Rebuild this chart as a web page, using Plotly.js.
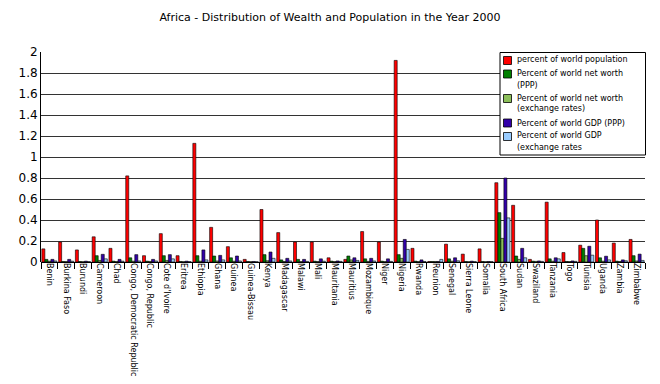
<!DOCTYPE html>
<html>
<head>
<meta charset="utf-8">
<script src="https://cdn.plot.ly/plotly-3.0.1.min.js"></script>
<style>html,body{margin:0;padding:0;background:#fff;}#chart{width:660px;height:384px;}</style>
</head>
<body>
<div id="chart"></div>
<script>
const countries = ["Benin","Burkina Faso","Burundi","Cameroon","Chad","Congo, Democratic Republic","Congo, Republic","Cote d'Ivoire","Eritrea","Ethiopia","Ghana","Guinea","Guinea-Bissau","Kenya","Madagascar","Malawi","Mali","Mauritania","Mauritius","Mozambique","Niger","Nigeria","Rwanda","Reunion","Senegal","Sierra Leone","Somalia","South Africa","Sudan","Swaziland","Tanzania","Togo","Tunisia","Uganda","Zambia","Zimbabwe"];

const population   = [0.125,0.19,0.115,0.24,0.13,0.82,0.06,0.27,0.06,1.13,0.33,0.146,0.025,0.50,0.28,0.19,0.19,0.04,0.025,0.29,0.19,1.92,0.13,0.005,0.17,0.075,0.125,0.755,0.54,0.025,0.57,0.09,0.16,0.40,0.18,0.215];
const netWorthPPP  = [0.025,0.005,0.005,0.06,0.008,0.04,0.008,0.06,0.005,0.06,0.057,0.04,0.005,0.07,0.02,0.025,0.008,0.008,0.057,0.03,0.008,0.07,0.008,0.005,0.03,0.005,0.005,0.47,0.057,0.008,0.03,0.005,0.13,0.04,0.008,0.06];
const netWorthFX   = [0.008,0.004,0.003,0.015,0.004,0.008,0.006,0.015,0.003,0.008,0.01,0.008,0.003,0.012,0.005,0.004,0.005,0.004,0.02,0.006,0.004,0.035,0.004,0.005,0.008,0.003,0.003,0.225,0.025,0.006,0.008,0.004,0.06,0.008,0.005,0.01];
const gdpPPP       = [0.025,0.025,0.008,0.073,0.025,0.07,0.025,0.07,0.008,0.115,0.063,0.057,0.005,0.095,0.035,0.025,0.03,0.01,0.04,0.035,0.03,0.215,0.02,0.005,0.04,0.008,0.005,0.80,0.13,0.01,0.04,0.01,0.15,0.055,0.02,0.075];
const gdpFX        = [0.01,0.008,0.004,0.03,0.008,0.01,0.01,0.03,0.004,0.02,0.02,0.01,0.003,0.035,0.01,0.006,0.008,0.006,0.015,0.01,0.006,0.12,0.005,0.025,0.012,0.004,0.004,0.42,0.04,0.006,0.03,0.006,0.065,0.02,0.012,0.015];

const seriesNames = ["percent of world population","Percent of world net worth (PPP)","Percent of world net worth (exchange rates)","Percent of world GDP (PPP)","Percent of world GDP (exchange rates"];
const legendLines = [["percent of world population"],["Percent of world net worth","(PPP)"],["Percent of world net worth","(exchange rates)"],["Percent of world GDP (PPP)"],["Percent of world GDP","(exchange rates"]];
const seriesValues = [population, netWorthPPP, netWorthFX, gdpPPP, gdpFX];
const seriesColors = ["#ff0000","#008000","#8cbf5a","#3300aa","#99ccff"];

const traces = seriesValues.map((vals, i) => ({
  type: "bar",
  name: seriesNames[i],
  x: countries,
  y: vals,
  marker: {color: seriesColors[i], line: {color: "#000", width: 0.6}},
  hoverinfo: "skip",
  showlegend: false
}));

// Plot area in pixels (for placing the hand-made legend box)
const M = {l: 41, r: 15, t: 52, b: 122};
const W = 660, H = 384;
const pw = W - M.l - M.r, ph = H - M.t - M.b;
const px = v => (v - M.l) / pw;
const py = v => (H - M.b - v) / ph;

const shapes = [{type: "rect", xref: "paper", yref: "paper", x0: px(500), x1: px(645.5), y0: py(155), y1: py(52.5), fillcolor: "#fff", line: {color: "#000", width: 1}, layer: "above"}];
const annotations = [];
const symTop = [56.5, 70, 94.5, 119, 132.5];
const lineY = [[60], [73.5, 85], [98, 108.5], [123], [135.5, 147]];
seriesColors.forEach((c, i) => {
  shapes.push({type: "rect", xref: "paper", yref: "paper", x0: px(503.5), x1: px(511.5), y0: py(symTop[i] + 8), y1: py(symTop[i]), fillcolor: c, line: {color: "#000", width: 0.8}, layer: "above"});
  legendLines[i].forEach((t, k) => {
    annotations.push({xref: "paper", yref: "paper", x: px(514.5), y: py(lineY[i][k]), xanchor: "left", yanchor: "middle", text: t, showarrow: false, font: {size: 8, color: "#000"}});
  });
});

const layout = {
  width: W, height: H,
  margin: M,
  paper_bgcolor: "#fff", plot_bgcolor: "#fff",
  font: {family: "DejaVu Sans, sans-serif", color: "#000"},
  title: {text: "Africa - Distribution of Wealth and Population in the Year 2000", font: {size: 11, color: "#000"}, x: 0.5, xanchor: "center", y: 0.955, yanchor: "middle"},
  barmode: "group",
  bargap: 0.1,
  bargroupgap: 0,
  showlegend: false,
  shapes: shapes,
  annotations: annotations,
  xaxis: {
    type: "category",
    tickangle: 90,
    tickfont: {size: 8, color: "#000"},
    ticks: "outside", ticklen: 6, tickcolor: "#000",
    tickson: "boundaries",
    showgrid: false,
    showline: false,
    zeroline: false
  },
  yaxis: {
    range: [0, 2],
    dtick: 0.2,
    tickfont: {size: 12, color: "#000"},
    showgrid: true, gridcolor: "#333", gridwidth: 1,
    showline: true, linecolor: "#000", linewidth: 1,
    ticks: "", zeroline: true, zerolinecolor: "#000", zerolinewidth: 1
  }
};

Plotly.newPlot("chart", traces, layout, {staticPlot: true, displayModeBar: false});
</script>
</body>
</html>
